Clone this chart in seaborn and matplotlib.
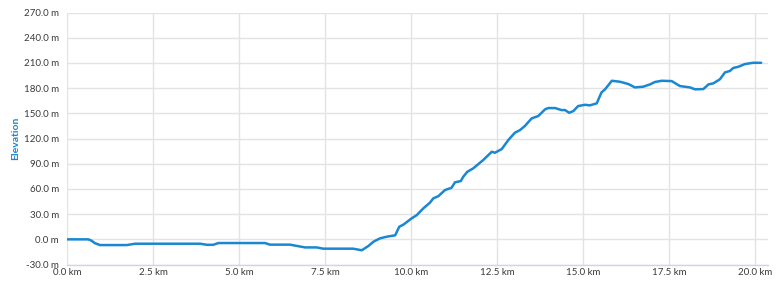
import matplotlib
matplotlib.use("Agg")
import matplotlib.pyplot as plt
import seaborn as sns
import pandas as pd

distance_km = [0.00, 0.61, 0.70, 0.80, 0.95, 1.73, 1.97, 3.86, 4.06, 4.24, 4.39, 5.75, 5.89,
               6.47, 6.91, 7.25, 7.44, 8.31, 8.56, 8.75, 8.90, 9.09, 9.28, 9.53, 9.65, 9.77,
               10.01, 10.16, 10.35, 10.54, 10.64, 10.79, 10.98, 11.17, 11.27, 11.44, 11.51,
               11.63, 11.80, 11.95, 12.09, 12.34, 12.43, 12.63, 12.82, 13.01, 13.16, 13.30,
               13.50, 13.69, 13.89, 13.98, 14.18, 14.37, 14.47, 14.59, 14.71, 14.85, 15.05,
               15.19, 15.39, 15.53, 15.63, 15.83, 16.07, 16.31, 16.50, 16.74, 16.94, 17.08,
               17.28, 17.57, 17.81, 18.10, 18.25, 18.49, 18.64, 18.78, 18.97, 19.12, 19.26,
               19.36, 19.51, 19.70, 19.94, 20.17]
elevation_m = [0.0, 0.0, -1.5, -4.5, -6.8, -6.8, -5.2, -5.2, -6.5, -6.5, -4.4, -4.4, -6.3,
               -6.3, -9.6, -9.6, -11.1, -11.1, -13.0, -8.0, -2.8, 1.2, 3.1, 4.8, 15.0, 17.5,
               25.0, 28.9, 36.9, 43.6, 48.8, 51.5, 58.7, 61.4, 67.9, 69.4, 74.5,
               80.5, 84.5, 89.6, 94.4, 104.3, 103.1, 107.5, 118.2, 126.9, 130.1, 134.9,
               144.0, 146.8, 154.8, 156.3, 156.3, 153.9, 153.9, 150.7, 152.7, 158.7, 160.2,
               159.5, 161.9, 175.0, 178.5, 188.8, 187.6, 184.9, 180.9, 181.7, 184.5, 187.3,
               188.8, 188.4, 182.5, 180.9, 178.6, 178.9, 184.5, 185.7, 190.5, 198.8, 200.4,
               204.0, 205.5, 208.7, 210.2, 210.2]
x_ticks = [0, 2.5, 5, 7.5, 10, 12.5, 15, 17.5, 20]
y_ticks = [-30, 0, 30, 60, 90, 120, 150, 180, 210, 240, 270]

df = pd.DataFrame({"Distance": distance_km, "Elevation": elevation_m})

sns.set_theme(style="white")
plt.rcParams["font.family"] = ["Lato", "DejaVu Sans"]

fig = plt.figure(figsize=(7.79, 2.92), dpi=100)
ax = fig.add_axes([0.0864, 0.094, 0.8995, 0.863])

sns.lineplot(data=df, x="Distance", y="Elevation", ax=ax, color="#1a87d3",
             linewidth=1.8, zorder=3)

ax.set_xlim(0, 20.37)
ax.set_ylim(-30, 270)
ax.set_xticks(x_ticks)
ax.set_yticks(y_ticks)
ax.set_xticklabels([f"{t:.1f} km" for t in x_ticks])
ax.set_yticklabels([f"{t:.1f} m" for t in y_ticks])
ax.grid(True, color="#e3e3e3", linewidth=1.0, zorder=0)
ax.set_axisbelow(True)

for s in ["top", "right", "left"]:
    ax.spines[s].set_visible(False)
ax.spines["bottom"].set_color("#ccd6eb")
ax.spines["bottom"].set_linewidth(1.0)

ax.tick_params(axis="both", length=0, labelsize=7, colors="#3a3a3a")
ax.tick_params(axis="x", pad=2.5)
ax.tick_params(axis="y", pad=6)
ax.set_xlabel("")
ax.set_ylabel("Elevation", color="#1a87d3", fontsize=7.5, fontweight="bold", labelpad=3)

fig.savefig("out.png", dpi=100)
